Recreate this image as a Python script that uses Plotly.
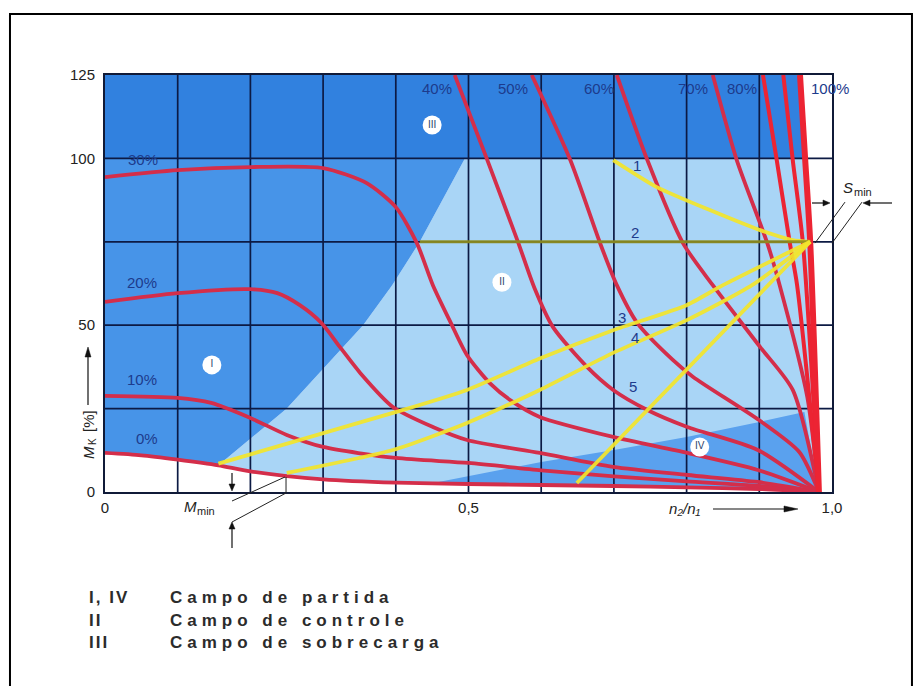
import math
import plotly.graph_objects as go

# ---------------- axis ticks / grid ----------------
X_TICK_VALS = [0, 0.5, 1.0]
X_TICK_TEXT = ["0", "0,5", "1,0"]
Y_TICK_VALS = [0, 50, 100, 125]
Y_TICK_TEXT = ["0", "50", "100", "125"]
GRID_X = [0.1, 0.2, 0.3, 0.4, 0.5, 0.6, 0.7, 0.8, 0.9]
GRID_Y = [25, 50, 75, 100]

# ---------------- torque curves (n2/n1 , M_K %) ----------------
X_0 = [0, 0.05, 0.10, 0.156, 0.20, 0.30, 0.40, 0.50, 0.60, 0.70, 0.80, 0.90, 0.982]
Y_0 = [11.7, 11.0, 9.7, 8.0, 6.2, 3.8, 2.8, 2.4, 2.1, 1.8, 1.4, 0.9, 0]

X_10 = [0, 0.10, 0.146, 0.20, 0.25, 0.30, 0.40, 0.50, 0.60, 0.70, 0.80, 0.90, 0.982]
Y_10 = [28.8, 28.2, 26.7, 22.2, 17.1, 13.5, 10.2, 8.7, 6.5, 4.7, 3.2, 1.8, 0]

X_20 = [0, 0.10, 0.20, 0.237, 0.268, 0.298, 0.323, 0.351, 0.396, 0.451, 0.498, 0.598, 0.699, 0.801, 0.898, 0.982]
Y_20 = [57.0, 59.6, 60.8, 59.6, 56.0, 50.6, 43.5, 35.7, 25.5, 19.5, 15.6, 11.7, 7.5, 5.1, 3.0, 0]

X_30 = [0, 0.10, 0.20, 0.30, 0.36, 0.40, 0.429, 0.451, 0.475, 0.498, 0.53, 0.561, 0.598, 0.699, 0.801, 0.898, 0.982]
Y_30 = [94.4, 96.5, 97.4, 97.1, 92.6, 85.4, 74.6, 62.0, 51.0, 41.0, 32.5, 27.0, 22.5, 16.5, 11.7, 6.6, 0]

X_40 = [0.481, 0.525, 0.568, 0.591, 0.616, 0.663, 0.699, 0.746, 0.801, 0.898, 0.982]
Y_40 = [125, 100, 75, 61.0, 49.5, 37.5, 30.6, 24.6, 19.5, 12.6, 0]

X_50 = [0.587, 0.640, 0.681, 0.704, 0.732, 0.781, 0.809, 0.900, 0.955, 0.982]
Y_50 = [125, 99.5, 74.6, 62.0, 50.7, 39.6, 34.5, 21.5, 12.0, 0]

X_60 = [0.704, 0.746, 0.795, 0.836, 0.901, 0.946, 0.982]
Y_60 = [125, 99.5, 74.6, 62.0, 43.5, 30.6, 0]

X_70 = [0.836, 0.869, 0.911, 0.928, 0.966, 0.982]
Y_70 = [125, 99.5, 74.6, 62.0, 28.5, 0]

X_80 = [0.905, 0.924, 0.942, 0.952, 0.982]
Y_80 = [125, 99.5, 74.6, 62.0, 0]

X_90 = [0.933, 0.946, 0.960, 0.982]
Y_90 = [125, 99.5, 74.6, 0]

X_100 = [0.956, 0.963, 0.970, 0.982]
Y_100 = [125, 100, 75, 0]

CURVE_NAMES = ["0%", "10%", "20%", "30%", "40%", "50%", "60%", "70%", "80%", "90%", "100%"]

# ---------------- operating lines 1..5 ----------------
X_L1 = [0.699, 0.759, 0.832, 0.901, 0.946, 0.970]
Y_L1 = [99.5, 91.4, 84.5, 78.5, 75.5, 75.0]
X_L2 = [0.433, 0.970]
Y_L2 = [75.0, 75.0]
X_L3 = [0.156, 0.396, 0.498, 0.598, 0.699, 0.800, 0.850, 0.970]
Y_L3 = [8.5, 23.7, 30.6, 40.0, 48.5, 56.0, 62.0, 75.0]
X_L4 = [0.250, 0.396, 0.498, 0.598, 0.699, 0.801, 0.890, 0.970]
Y_L4 = [5.7, 12.6, 20.7, 30.6, 41.7, 51.6, 62.0, 75.0]
X_L5 = [0.649, 0.970]
Y_L5 = [2.7, 75.0]

# ---------------- field boundaries ----------------
BOUND_X = [0.156, 0.25, 0.355, 0.395, 0.433, 0.495]   # between field I and II
BOUND_Y = [8.0, 25.0, 50.0, 62.0, 75.0, 100.0]
R4_X = [0.45, 0.60, 0.70, 0.80, 0.90, 0.962]           # top of field IV
R4_Y = [2.6, 9.0, 12.6, 16.5, 21.0, 24.0]

RED = "#d42e4a"
RED_BRIGHT = "#ec2433"
YELLOW = "#f3e62c"
OLIVE = "#8f8d1e"
GRID = "#0c1a44"
LABEL_BLUE = "#1d3b8c"
INK = "#222222"
FONT = "Liberation Sans, Arial, sans-serif"

# plot area of the reference picture, in pixels
PLOT_L, PLOT_T, PLOT_W, PLOT_H = 105, 75, 727, 417
Y_MAX = 125.0

fig = go.Figure()


def add_fill(xs, ys, color):
    fig.add_trace(go.Scatter(x=xs, y=ys, mode="lines", fill="toself", fillcolor=color,
                             line=dict(width=0), hoverinfo="skip", showlegend=False))


# field II (control) - light
ii_x = BOUND_X + X_100[1:] + [x for x in reversed(X_0) if x >= BOUND_X[0]]
ii_y = BOUND_Y + Y_100[1:] + [y for x, y in zip(reversed(X_0), reversed(Y_0)) if x >= BOUND_X[0]]
add_fill(ii_x, ii_y, "#a9d5f6")

# field I (start) - medium blue
i_x = [x for x in X_0 if x <= BOUND_X[0]] + BOUND_X + [0]
i_y = [y for x, y in zip(X_0, Y_0) if x <= BOUND_X[0]] + BOUND_Y + [100]
add_fill(i_x, i_y, "#4794e8")

# field III (overload) - dark blue
add_fill([0, 0, X_100[0], X_100[1]], [100, 125, Y_100[0], Y_100[1]], "#3181df")

# field IV (start) - medium blue
iv_x = R4_X + [X_100[-1]] + [x for x in reversed(X_0) if x >= R4_X[0]]
iv_y = R4_Y + [Y_100[-1]] + [y for x, y in zip(reversed(X_0), reversed(Y_0)) if x >= R4_X[0]]
add_fill(iv_x, iv_y, "#5aa1ee")

# grid drawn over the fields
gx, gy = [], []
for x in GRID_X:
    gx += [x, x, None]
    gy += [0, 125, None]
for y in GRID_Y:
    gx += [0, 1, None]
    gy += [y, y, None]
fig.add_trace(go.Scatter(x=gx, y=gy, mode="lines", line=dict(color=GRID, width=1.7),
                         hoverinfo="skip", showlegend=False))

# red torque curves
curves = [(X_0, Y_0), (X_10, Y_10), (X_20, Y_20), (X_30, Y_30), (X_40, Y_40), (X_50, Y_50),
          (X_60, Y_60), (X_70, Y_70), (X_80, Y_80), (X_90, Y_90), (X_100, Y_100)]
for name, (cx, cy) in zip(CURVE_NAMES, curves):
    if name == "100%":
        col, w = RED_BRIGHT, 6
    elif name in ("80%", "90%"):
        col, w = RED_BRIGHT, 4
    else:
        col, w = RED, 3.8
    fig.add_trace(go.Scatter(x=cx, y=cy, mode="lines", name=name,
                             line=dict(color=col, width=w, shape="spline", smoothing=0.7),
                             hoverinfo="skip", showlegend=False))

# yellow operating lines
for name, (lx, ly) in zip(["1", "2", "3", "4", "5"],
                          [(X_L1, Y_L1), (X_L2, Y_L2), (X_L3, Y_L3), (X_L4, Y_L4), (X_L5, Y_L5)]):
    col = OLIVE if name == "2" else YELLOW
    fig.add_trace(go.Scatter(x=lx, y=ly, mode="lines", name=name, opacity=0.92,
                             line=dict(color=col, width=3.8 if name != "2" else 3,
                                       shape="spline", smoothing=0.6),
                             hoverinfo="skip", showlegend=False))

# roman numeral field markers
FIELD_TEXT = ["III", "II", "I", "IV"]
FIELD_X = [0.450, 0.546, 0.147, 0.818]
FIELD_Y = [110.0, 62.9, 38.1, 13.5]
fig.add_trace(go.Scatter(x=FIELD_X, y=FIELD_Y, mode="markers+text", text=FIELD_TEXT,
                         textposition="middle center",
                         textfont=dict(family=FONT, size=10, color="#2a3f6a"),
                         marker=dict(symbol="circle", size=19, color="white",
                                     line=dict(width=0)),
                         hoverinfo="skip", showlegend=False))


def pp(x, y):
    """data units -> paper units (x range is 0..1, y range is 0..125)"""
    return x, y / Y_MAX


def px2paper(px, py):
    """pixel position in the 924x686 reference picture -> paper units"""
    return (px - PLOT_L) / PLOT_W, (PLOT_T + PLOT_H - py) / PLOT_H


annotations = []


def label(x, y, text, size, color):
    px_, py_ = pp(x, y)
    annotations.append(dict(x=px_, y=py_, xref="paper", yref="paper", text=text,
                            showarrow=False, xanchor="center", yanchor="middle",
                            font=dict(family=FONT, size=size, color=color)))


def label_px(px, py, text, size, color=INK, angle=0, italic=False, anchor="center"):
    x, y = px2paper(px, py)
    annotations.append(dict(x=x, y=y, xref="paper", yref="paper", text=text,
                            showarrow=False, xanchor=anchor, yanchor="middle",
                            textangle=angle, borderpad=0,
                            font=dict(family=FONT, size=size, color=color,
                                      style="italic" if italic else "normal")))


# curve labels
LABEL_TEXT = ["30%", "20%", "10%", "0%", "40%", "50%", "60%", "70%", "80%", "100%"]
LABEL_X = [0.052, 0.051, 0.051, 0.058, 0.457, 0.561, 0.680, 0.809, 0.876, 0.997]
LABEL_Y = [99.8, 62.9, 33.6, 15.9, 121, 121, 121, 121, 121, 121]
for t, x, y in zip(LABEL_TEXT, LABEL_X, LABEL_Y):
    label(x, y, t, 15, LABEL_BLUE)
# line numbers
NUM_TEXT = ["1", "2", "3", "4", "5"]
NUM_X = [0.732, 0.729, 0.711, 0.729, 0.726]
NUM_Y = [98.0, 77.9, 52.2, 46.2, 31.5]
for t, x, y in zip(NUM_TEXT, NUM_X, NUM_Y):
    label(x, y, t, 15, LABEL_BLUE)

# y axis title  M_K [%]  (rotated, reading upwards)
label_px(88, 453, "M", 15, angle=-90, italic=True)
label_px(92, 442, "K", 10, angle=-90)
label_px(88, 421, "[%]", 15, angle=-90)
# x axis title  n2/n1
label_px(685, 508, "n₂/n₁", 15, italic=True)
# M_min and S_min (subscript set as a separate smaller text)
label_px(198, 506, "M", 15, italic=True, anchor="right")
label_px(196, 511, "min", 11, anchor="left")
label_px(854, 187, "S", 15, italic=True, anchor="right")
label_px(853, 192, "min", 11, anchor="left")

shapes = []


def seg(xa, ya, xb, yb, width=1):
    x0, y0 = pp(xa, ya)
    x1, y1 = pp(xb, yb)
    shapes.append(dict(type="line", xref="paper", yref="paper", x0=x0, y0=y0, x1=x1, y1=y1,
                       line=dict(color=INK, width=width)))


def arrow_px(tpx, tpy, hpx, hpy, head_len=7.0, head_half=3.0, width=1.2):
    """arrow from tail to head, given in reference pixels; line + filled triangle"""
    dx, dy = hpx - tpx, hpy - tpy
    length = math.hypot(dx, dy)
    ux, uy = dx / length, dy / length
    nx, ny = -uy, ux
    bx, by = hpx - head_len * ux, hpy - head_len * uy
    x0, y0 = px2paper(tpx, tpy)
    x1, y1 = px2paper(bx, by)
    shapes.append(dict(type="line", xref="paper", yref="paper", x0=x0, y0=y0, x1=x1, y1=y1,
                       line=dict(color="#111", width=width)))
    pts = [(hpx, hpy), (bx + head_half * nx, by + head_half * ny),
           (bx - head_half * nx, by - head_half * ny)]
    path = "M " + " L ".join("%.5f,%.5f" % px2paper(a, b) for a, b in pts) + " Z"
    shapes.append(dict(type="path", xref="paper", yref="paper", path=path,
                       fillcolor="#111", line=dict(color="#111", width=0.5)))


# axis title arrows
arrow_px(88, 405, 88, 347, head_len=10, head_half=3)
arrow_px(713, 509, 798, 509, head_len=14, head_half=3)
# M_min bracket and arrows
seg(0.1747, -2.7, 0.2476, 4.5)
seg(0.249, 4.5, 0.249, -0.3)
seg(0.1747, -9.0, 0.249, -0.3)
arrow_px(232, 473, 232, 491)
arrow_px(232, 548, 232, 522)
# S_min bracket and arrows
seg(0.9766, 74.6, 1.0179, 86.9)
seg(1.0, 74.6, 1.0413, 86.9)
arrow_px(812, 203, 830, 203)
arrow_px(892, 203, 863, 203)

# legend text below the chart
LEG_KEYS = ["I, IV", "II", "III"]
LEG_TEXT = ["Campo de partida", "Campo de controle", "Campo de sobrecarga"]
LEG_ROW_Y = [-0.2518, -0.3070, -0.3621]
for k, t, y in zip(LEG_KEYS, LEG_TEXT, LEG_ROW_Y):
    annotations.append(dict(x=-0.0248, y=y, xref="paper", yref="paper", xanchor="left",
                            yanchor="middle", showarrow=False,
                            text="<span style='letter-spacing:2px'>%s</span>" % k,
                            font=dict(family=FONT, size=17, color="#2b2b2b", weight="bold")))
    annotations.append(dict(x=0.0867, y=y, xref="paper", yref="paper", xanchor="left",
                            yanchor="middle", showarrow=False,
                            text="<span style='letter-spacing:5px'>%s</span>" % t,
                            font=dict(family=FONT, size=17, color="#2b2b2b", weight="bold")))

# outer frame
shapes.append(dict(type="rect", xref="paper", yref="paper", x0=-0.1307, y0=-0.50, x1=1.110,
                   y1=1.1463, line=dict(color="black", width=2)))

fig.update_layout(
    width=924, height=686,
    margin=dict(l=97, r=100, t=67, b=202),
    paper_bgcolor="white", plot_bgcolor="white",
    showlegend=False,
    annotations=annotations,
    shapes=shapes,
    xaxis=dict(range=[0, 1], tickvals=X_TICK_VALS, ticktext=X_TICK_TEXT, showgrid=False,
               zeroline=False, showline=True, mirror=True, linecolor="#101a38", linewidth=2,
               ticks="outside", ticklen=1, tickcolor="rgba(0,0,0,0)",
               tickfont=dict(family=FONT, size=15, color=INK)),
    yaxis=dict(range=[0, 125], tickvals=Y_TICK_VALS, ticktext=Y_TICK_TEXT, showgrid=False,
               zeroline=False, showline=True, mirror=True, linecolor="#101a38", linewidth=2,
               ticks="outside", ticklen=5, tickcolor="rgba(0,0,0,0)",
               tickfont=dict(family=FONT, size=15, color=INK)),
)

fig.write_html("out.html")
